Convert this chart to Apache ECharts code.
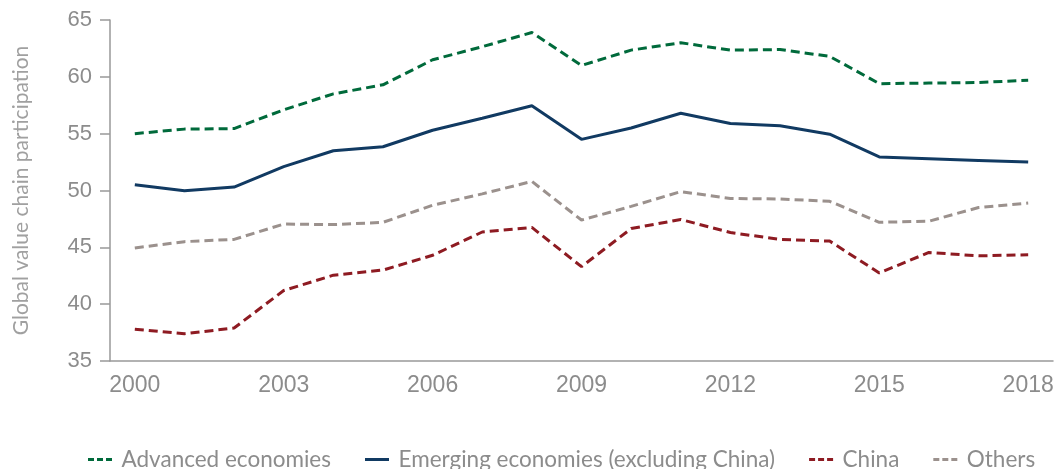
<!DOCTYPE html>
<html>
<head>
<meta charset="utf-8">
<script src="https://cdn.jsdelivr.net/npm/echarts@6/dist/echarts.min.js"></script>
<style>
  html, body { margin: 0; padding: 0; background: #fff; }
  #chart { width: 1058px; height: 469px; }
</style>
</head>
<body>
<div id="chart"></div>
<script>
var years = ['2000', '2001', '2002', '2003', '2004', '2005', '2006', '2007', '2008', '2009',
             '2010', '2011', '2012', '2013', '2014', '2015', '2016', '2017', '2018'];

var advanced = [55.0, 55.4, 55.45, 57.1, 58.5, 59.3, 61.5, 62.65, 63.9, 61.0,
                62.35, 63.0, 62.35, 62.4, 61.8, 59.4, 59.45, 59.5, 59.7];
var emerging = [50.5, 49.97, 50.3, 52.1, 53.5, 53.85, 55.3, 56.35, 57.45, 54.5,
                55.5, 56.8, 55.9, 55.7, 54.95, 52.95, 52.8, 52.65, 52.5];
var china = [37.8, 37.4, 37.9, 41.2, 42.55, 43.0, 44.3, 46.35, 46.75, 43.3,
             46.65, 47.45, 46.3, 45.7, 45.55, 42.75, 44.55, 44.25, 44.35];
var others = [44.95, 45.5, 45.7, 47.05, 47.0, 47.2, 48.7, 49.7, 50.8, 47.4,
              48.6, 49.9, 49.3, 49.25, 49.05, 47.2, 47.3, 48.5, 48.9];

var axisGrey = '#999999';
var labelGrey = '#8c8c8c';

// legend icons: three short dashes, or one solid bar
var dashIcon = 'path://M0,0h6v3h-6z M9,0h6v3h-6z M18,0h6v3h-6z';
var solidIcon = 'path://M0,0h24v3h-24z';

function makeLine(name, data, color, dashed) {
    return {
        name: name,
        type: 'line',
        data: data,
        symbol: 'none',
        lineStyle: {
            color: color,
            width: 3,
            type: dashed ? [9, 5] : 'solid'
        },
        itemStyle: { color: color }
    };
}

var option = {
    animation: false,
    grid: { left: 110, right: 5, top: 20, bottom: 108 },
    legend: {
        top: 443,
        left: 83,
        width: 975,
        itemWidth: 25,
        itemHeight: 3,
        itemGap: 34,
        textStyle: { fontFamily: 'Lato', fontSize: 22.5, color: labelGrey, padding: [0, 0, 0, 4] },
        data: [
            { name: 'Advanced economies', icon: dashIcon },
            { name: 'Emerging economies (excluding China)', icon: solidIcon },
            { name: 'China', icon: dashIcon },
            { name: 'Others', icon: dashIcon }
        ]
    },
    xAxis: {
        type: 'category',
        data: years,
        boundaryGap: true,
        axisLine: { lineStyle: { color: axisGrey, width: 1.5 } },
        axisTick: { show: false },
        axisLabel: {
            interval: 2,
            margin: 13,
            fontFamily: 'Liberation Sans',
            fontSize: 23,
            color: labelGrey
        }
    },
    yAxis: {
        type: 'value',
        min: 35,
        max: 65,
        interval: 5,
        name: 'Global value chain participation',
        nameLocation: 'middle',
        nameGap: 78,
        nameTextStyle: { fontFamily: 'Lato', fontSize: 21, color: '#a0a0a0' },
        splitLine: { show: false },
        axisLine: { show: true, lineStyle: { color: axisGrey, width: 1.5 } },
        axisTick: { show: true, length: 10, lineStyle: { color: axisGrey, width: 1.5 } },
        axisLabel: {
            margin: 18,
            fontFamily: 'Liberation Sans',
            fontSize: 22,
            color: labelGrey
        }
    },
    series: [
        makeLine('Advanced economies', advanced, '#006a3b', true),
        makeLine('Emerging economies (excluding China)', emerging, '#113a62', false),
        makeLine('China', china, '#8e1b22', true),
        makeLine('Others', others, '#9b918d', true)
    ]
};

var chart = echarts.init(document.getElementById('chart'));
chart.setOption(option);
</script>
</body>
</html>
